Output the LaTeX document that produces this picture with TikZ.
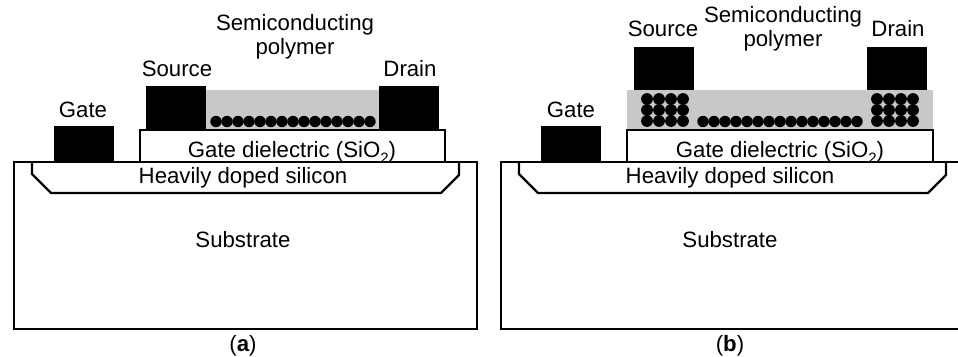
\documentclass[tikz,border=0pt]{standalone}
\usepackage{fontspec}
\setmainfont{Liberation Sans}

\tikzset{
  outline/.style={draw, line width=2.3pt},
  contact/.style={fill=black},
  polymer/.style={fill=polygray},
  label/.style={inner sep=0pt, font=\fontsize{22.2}{24}\selectfont},
}
\definecolor{polygray}{HTML}{C8C8C8}
\newcommand{\lowtwo}{\raisebox{-6pt}{\fontsize{15}{15}\selectfont 2}}

\begin{document}
\begin{tikzpicture}[x=1pt, y=-1pt, line join=miter]
  \useasboundingbox (0,0) rectangle (958,356);

  % panel a
  \fill[contact] (54,126) rectangle (114,162);
  \fill[contact] (146,86) rectangle (206,130);
  \fill[contact] (379,86) rectangle (439,130);
  \fill[polymer] (206,90) rectangle (379,129);
  \foreach \i in {0,...,14}
    \fill (216+11*\i,121.5) circle (5.7);
  \draw[outline] (140,162) -- (140,130) -- (445,130) -- (445,162);
  \draw[outline] (14,162) rectangle (477,329);
  \draw[outline] (32,162) -- (32,174) -- (51,193) -- (441,193) -- (459,175) -- (459,162);
  \node[label] (semia) at (295,25) {Semiconducting};
  \node[label] (polya) at (295,49) {polymer};
  \node[label] (sourcea) at (177,69) {Source};
  \node[label] (draina) at (410,69) {Drain};
  \node[label] (gatea) at (83,110) {Gate};
  \node[label, anchor=base] (oxidea) at (292,157) {Gate dielectric (SiO\lowtwo)};
  \node[label] (dopeda) at (243,178) {Heavily doped silicon};
  \node[label] (subsa) at (243,240) {Substrate};
  \node[label] (capa) at (243,346) {(\textbf{a})};

  % panel b
  \fill[contact] (541,126) rectangle (601,162);
  \fill[contact] (634,47) rectangle (694,90);
  \fill[contact] (867,47) rectangle (927,90);
  \fill[polymer] (627,90) rectangle (933,129);
  \foreach \i in {0,...,14}
    \fill (703+11*\i,121.5) circle (5.7);
  \foreach \i in {0,...,3}
    \foreach \j in {0,...,2} {
      \fill (647+12*\i,99+11*\j) circle (5.9);
      \fill (877+12*\i,99+11*\j) circle (5.9);
    }
  \draw[outline] (627,162) -- (627,130) -- (933,130) -- (933,162);
  \draw[outline] (501,162) rectangle (964,329);
  \draw[outline] (519,162) -- (519,174) -- (538,193) -- (928,193) -- (946,175) -- (946,162);
  \node[label] (semib) at (783,17) {Semiconducting};
  \node[label] (polyb) at (783,41) {polymer};
  \node[label] (sourceb) at (663,29) {Source};
  \node[label] (drainb) at (898,29) {Drain};
  \node[label] (gateb) at (571,110) {Gate};
  \node[label, anchor=base] (oxideb) at (780,157) {Gate dielectric (SiO\lowtwo)};
  \node[label] (dopedb) at (730,178) {Heavily doped silicon};
  \node[label] (subsb) at (730,240) {Substrate};
  \node[label] (capb) at (730,346) {(\textbf{b})};
\end{tikzpicture}
\end{document}
